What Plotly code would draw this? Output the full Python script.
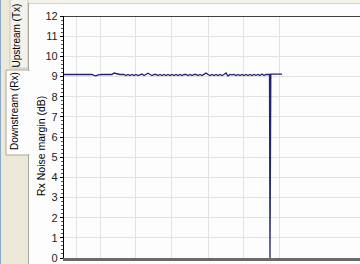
import plotly.graph_objects as go

# ---- data ----
y_ticks = list(range(0, 13))
x_grid = [12, 36, 71, 107, 144, 179, 215]

# noise margin samples (dB), every 2 minutes
margin_main = [
    9.1, 9.1, 9.1, 9.1, 9.1, 9.1, 9.1, 9.1, 9.1, 9.1, 9.1, 9.1, 9.1, 9.1, 9.1,
    9.06, 9.03, 9.08,
    9.1, 9.1, 9.1, 9.1, 9.1, 9.1, 9.1,
    9.17, 9.15, 9.1, 9.1, 9.1, 9.1,
    9.05, 9.1, 9.05, 9.1, 9.05, 9.1, 9.05, 9.1, 9.12, 9.05, 9.1, 9.16,
    9.1, 9.05, 9.1, 9.1, 9.05, 9.1, 9.05, 9.1, 9.05, 9.1, 9.05, 9.1,
    9.05, 9.1, 9.05, 9.1, 9.05, 9.1, 9.1, 9.05, 9.1, 9.05, 9.1, 9.1,
    9.05, 9.1, 9.05, 9.1, 9.17, 9.1, 9.05, 9.1, 9.05, 9.1, 9.05, 9.1,
    9.05, 9.1, 9.18, 9.02, 9.1, 9.08, 9.1, 9.05, 9.1, 9.05, 9.1, 9.05,
    9.1, 9.05, 9.1, 9.05, 9.1, 9.06, 9.1, 9.05, 9.12, 9.05, 9.1, 9.1,
]
minutes_main = [2 * i for i in range(len(margin_main))]
minutes_tail = [205.5, 206.0, 206.4, 206.8, 218.0]
margin_tail = [9.1, 0.0, 4.6, 9.12, 9.12]

minutes = minutes_main + minutes_tail
margin = margin_main + margin_tail

# ---- layout helpers (pixel -> paper) ----
W, H = 360, 264
L, R, T, B = 64, 0, 16, 6
PW, PH = W - L - R, H - T - B


def fx(px):
    return (px - L) / PW


def fy(py):
    return (H - B - py) / PH


fig = go.Figure()
fig.add_trace(go.Scatter(
    x=minutes, y=margin, mode="lines",
    line=dict(color="#23236e", width=1.3),
    hoverinfo="skip", showlegend=False,
))

shapes = []
# left beige tab strip
shapes.append(dict(type="rect", xref="paper", yref="paper", x0=fx(0), x1=fx(28), y0=fy(264), y1=fy(0),
                   fillcolor="#ECE9D8", line=dict(width=0), layer="below"))
shapes.append(dict(type="line", xref="paper", yref="paper", x0=fx(0.5), x1=fx(0.5), y0=fy(264), y1=fy(0),
                   line=dict(color="#8aa6c8", width=1)))
# top strip
shapes.append(dict(type="rect", xref="paper", yref="paper", x0=fx(28), x1=fx(360), y0=fy(3), y1=fy(0),
                   fillcolor="#F4F3EC", line=dict(width=0), layer="below"))
shapes.append(dict(type="line", xref="paper", yref="paper", x0=fx(28), x1=fx(360), y0=fy(3.5), y1=fy(3.5),
                   line=dict(color="#D5D3C6", width=1)))
# Upstream tab (unselected)
shapes.append(dict(type="rect", xref="paper", yref="paper", x0=fx(10), x1=fx(28), y0=fy(68), y1=fy(-2),
                   fillcolor="#F3F2EC", line=dict(color="#C9C7BA", width=1), layer="below"))
# Downstream tab (selected)
shapes.append(dict(type="rect", xref="paper", yref="paper", x0=fx(6), x1=fx(29), y0=fy(155), y1=fy(70),
                   fillcolor="#FDFDFD", line=dict(color="#A9A799", width=1), layer="below"))
# panel left border (broken at selected tab)
shapes.append(dict(type="line", xref="paper", yref="paper", x0=fx(28.5), x1=fx(28.5), y0=fy(70), y1=fy(3),
                   line=dict(color="#A9A799", width=1)))
shapes.append(dict(type="line", xref="paper", yref="paper", x0=fx(28.5), x1=fx(28.5), y0=fy(264), y1=fy(155),
                   line=dict(color="#A9A799", width=1)))
shapes.append(dict(type="rect", xref="paper", yref="paper", x0=fx(27), x1=fx(30), y0=fy(154), y1=fy(71),
                   fillcolor="#FDFDFD", line=dict(width=0), layer="below"))
# top black plot border
shapes.append(dict(type="line", xref="paper", yref="y", x0=0, x1=1, y0=12, y1=12,
                   line=dict(color="#000000", width=1.3)))

tab_font = dict(family="Liberation Sans", size=10, color="#000000")
title_font = dict(family="Liberation Sans", size=10.5, color="#000000")
annotations = [
    dict(text="Upstream (Tx)", xref="paper", yref="paper", x=fx(16.5), y=fy(36),
         xanchor="center", yanchor="middle", showarrow=False, textangle=-90, font=tab_font,
         borderpad=0),
    dict(text="Downstream (Rx)", xref="paper", yref="paper", x=fx(14), y=fy(111),
         xanchor="center", yanchor="middle", showarrow=False, textangle=-90, font=tab_font,
         borderpad=0),
    dict(text="Rx Noise margin (dB)", xref="paper", yref="paper", x=fx(41), y=fy(146),
         xanchor="center", yanchor="middle", showarrow=False, textangle=-90, font=title_font,
         borderpad=0),
]

fig.update_layout(
    width=W, height=H,
    margin=dict(l=L, r=R, t=T, b=B, pad=0),
    paper_bgcolor="#FDFDFD", plot_bgcolor="#FDFDFD",
    shapes=shapes, annotations=annotations,
    xaxis=dict(range=[0, PW], showticklabels=False, ticks="",
               tickmode="array", tickvals=x_grid,
               showgrid=True, gridcolor="#E2E2E2", gridwidth=1, zeroline=False,
               showline=True, linecolor="#6A6A6A", linewidth=2.5),
    yaxis=dict(range=[0, 12], tickmode="array", tickvals=y_ticks,
               ticktext=[str(v) for v in y_ticks],
               ticks="outside", ticklen=3, tickcolor="#000000", tickwidth=1,
               minor=dict(dtick=0.2, ticks="outside", ticklen=2, tickcolor="#555555", showgrid=False),
               showgrid=True, gridcolor="#E2E2E2", gridwidth=1, zeroline=False,
               showline=True, linecolor="#000000", linewidth=1.2,
               tickfont=dict(family="Liberation Sans", size=11, color="#222222")),
)

fig.write_html("out.html")
